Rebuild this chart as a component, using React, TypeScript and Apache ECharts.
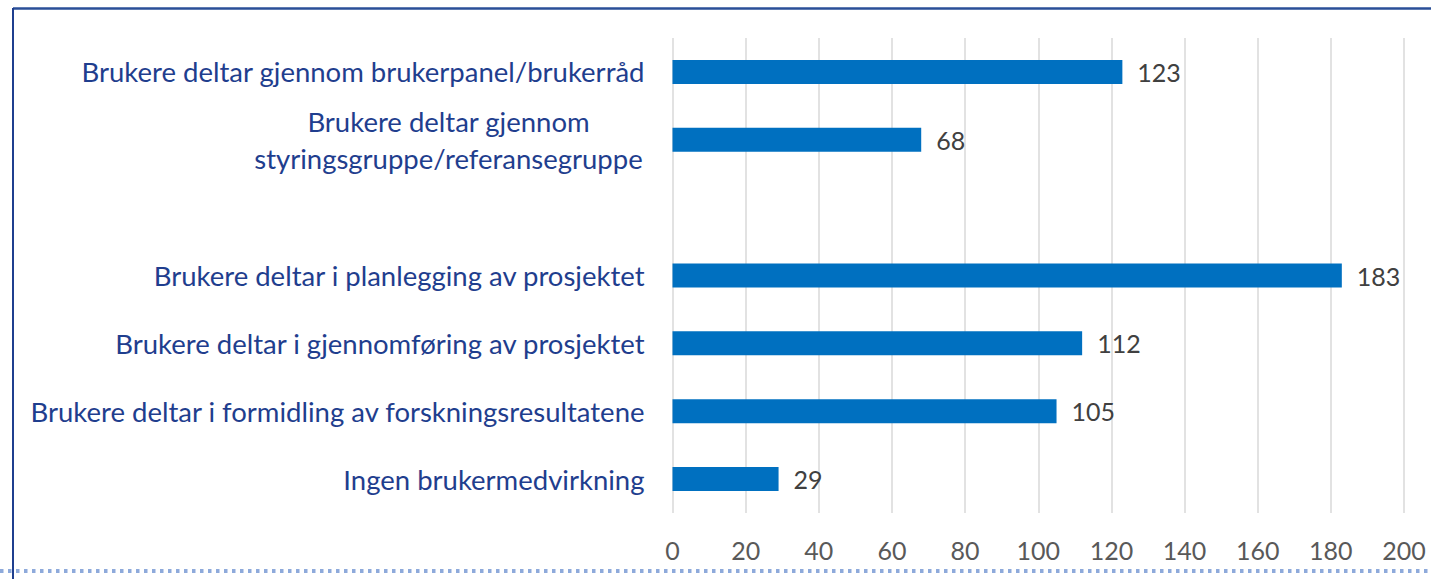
import React, { useEffect, useRef } from "react";
import * as echarts from "echarts";

const categories: string[] = [
  "Brukere deltar gjennom brukerpanel/brukerråd",
  "Brukere deltar gjennom\nstyringsgruppe/referansegruppe",
  "",
  "Brukere deltar i planlegging av prosjektet",
  "Brukere deltar i gjennomføring av prosjektet",
  "Brukere deltar i formidling av forskningsresultatene",
  "Ingen brukermedvirkning",
];
const values: (number | null)[] = [123, 68, null, 183, 112, 105, 29];
const axisMin = 0;
const axisMax = 200;
const axisStep = 20;

const FONT = "Lato";

export default function App() {
  const ref = useRef<HTMLDivElement>(null);
  useEffect(() => {
    if (!ref.current) return;
    const chart = echarts.init(ref.current, undefined, { renderer: "svg" });
    chart.setOption({
      animation: false,
      backgroundColor: "#ffffff",
      grid: { left: 672.5, right: 27, top: 38, bottom: 66, containLabel: false },
      xAxis: {
        type: "value",
        min: axisMin,
        max: axisMax,
        interval: axisStep,
        axisLine: { show: false },
        axisTick: { show: false },
        splitLine: { show: true, lineStyle: { color: "#d9d9d9", width: 1.5 } },
        axisLabel: { color: "#595959", fontSize: 25, fontFamily: FONT, margin: 24 },
      },
      yAxis: {
        type: "category",
        inverse: true,
        data: categories,
        axisLine: { show: false },
        axisTick: { show: false },
        axisLabel: {
          color: "#1f3e8e",
          fontSize: 27.5,
          fontFamily: FONT,
          margin: 28,
          lineHeight: 37,
          formatter: (v: string) =>
            v.includes("\n")
              ? v
                  .split("\n")
                  .map((l) => "{c|" + l + "}")
                  .join("\n")
              : v,
          rich: {
            c: { width: 392, align: "center", color: "#1f3e8e", fontSize: 27.5, fontFamily: FONT, lineHeight: 37 },
          },
        },
      },
      series: [
        {
          type: "bar",
          data: values,
          barWidth: 24,
          itemStyle: { color: "#0070c0" },
          label: {
            show: true,
            position: "right",
            distance: 15,
            color: "#404040",
            fontSize: 25,
            fontFamily: FONT,
          },
        },
      ],
      graphic: [
        { type: "line", shape: { x1: 13, y1: 8.5, x2: 1431, y2: 8.5 }, style: { stroke: "#2a4f98", lineWidth: 2.5 } },
        { type: "line", shape: { x1: 13, y1: 8, x2: 13, y2: 579 }, style: { stroke: "#1f3f8f", lineWidth: 2 } },
        {
          type: "line",
          shape: { x1: 0, y1: 571, x2: 1431, y2: 571 },
          style: { stroke: "#8eaadb", lineWidth: 4, lineDash: [3.5, 4.5] },
        },
      ],
    });
    return () => chart.dispose();
  }, []);
  return <div ref={ref} style={{ position: "absolute", left: 0, top: 0, width: 1431, height: 579 }} />;
}
